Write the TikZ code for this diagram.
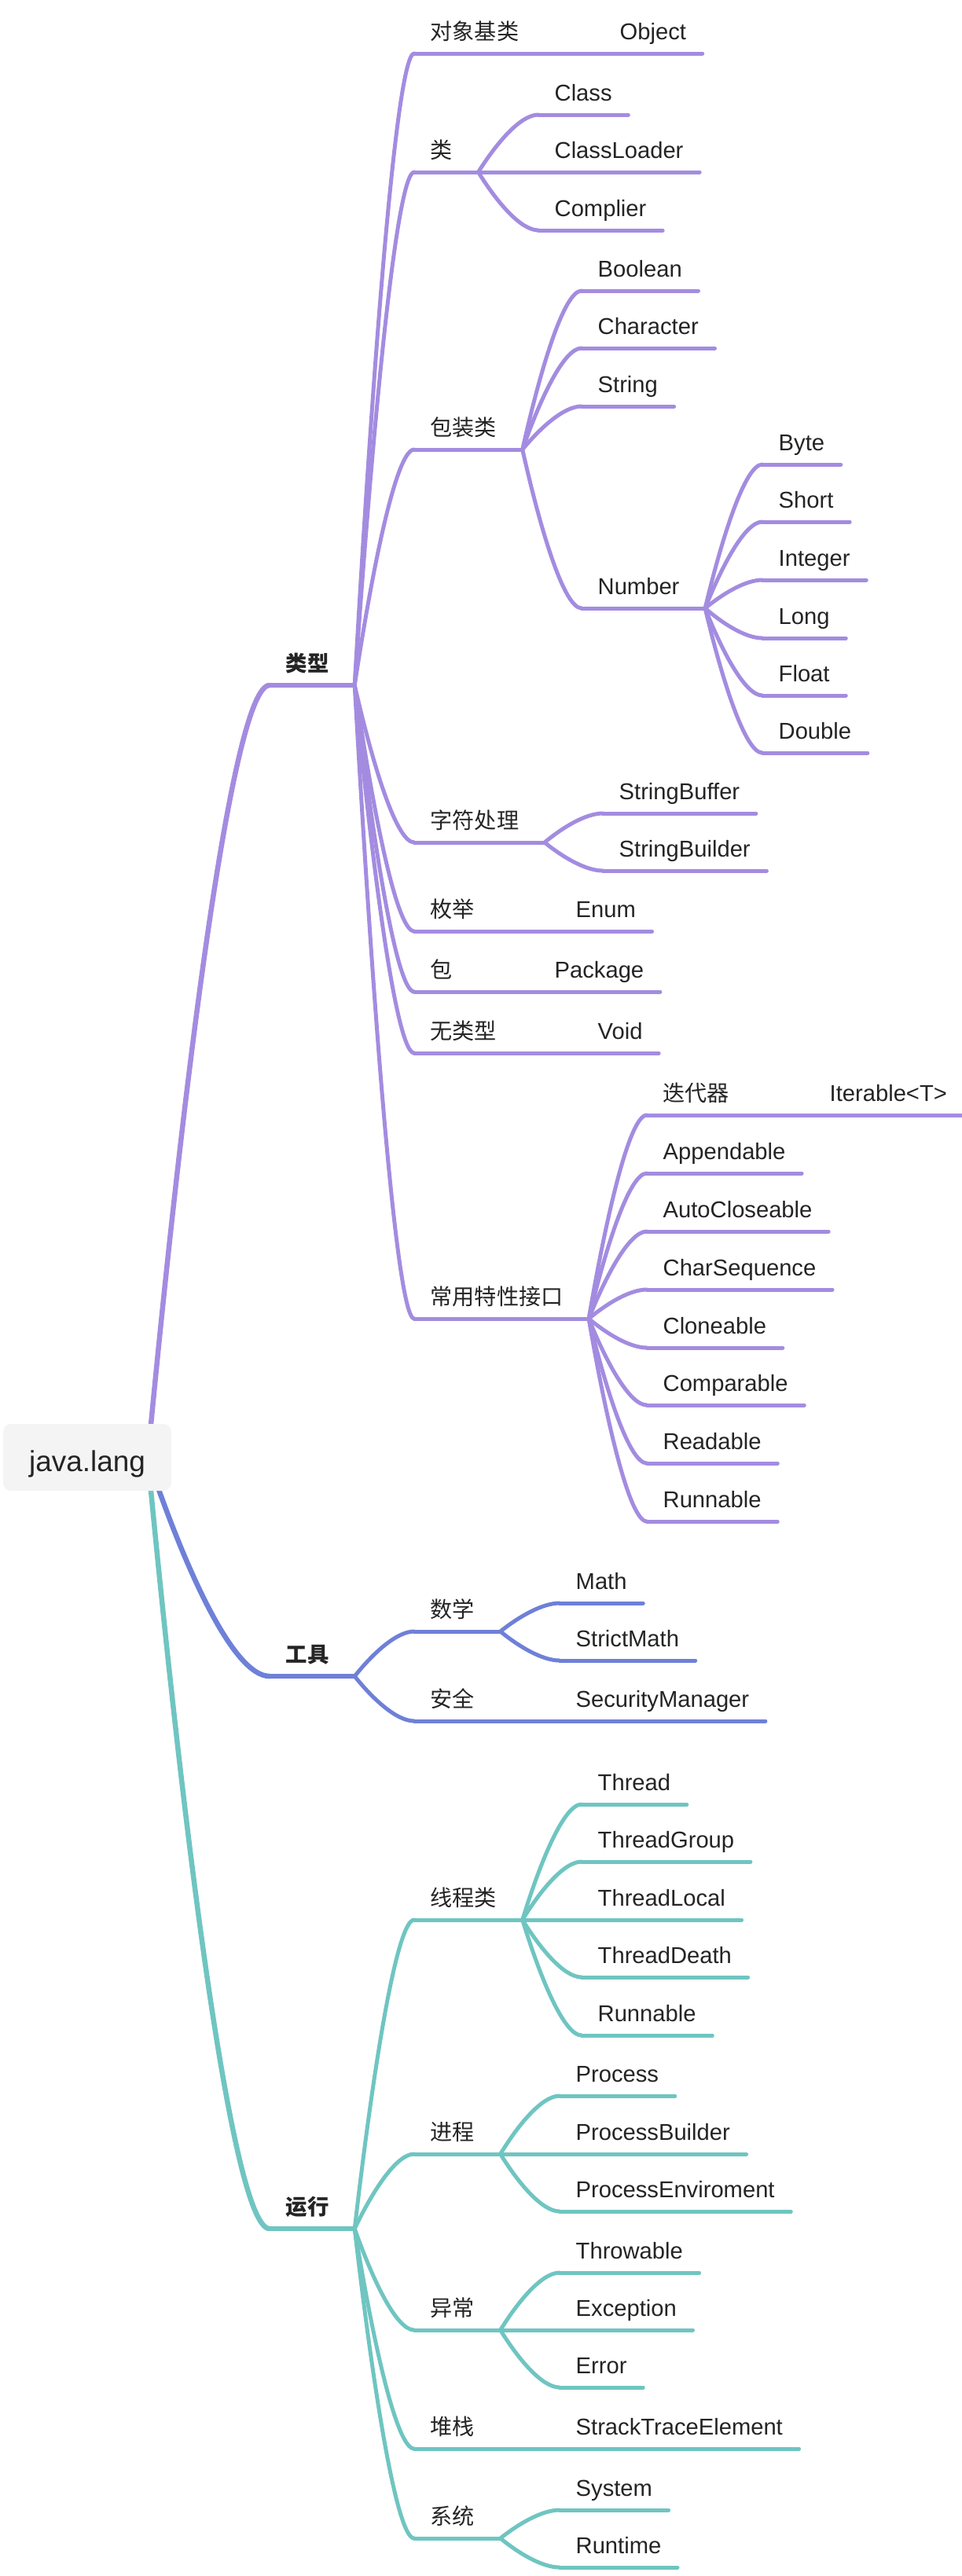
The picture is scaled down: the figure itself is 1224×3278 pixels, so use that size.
\documentclass[tikz,border=0pt]{standalone}
\usepackage{fontspec}
\setmainfont{Liberation Sans}
\newfontfamily\cjk{Noto Sans CJK SC}
\usetikzlibrary{calc,backgrounds}
\definecolor{lxpurple}{HTML}{A38CE0}
\definecolor{gjblue}{HTML}{6E80D8}
\definecolor{yxteal}{HTML}{6FC5C1}
\definecolor{rootgray}{HTML}{F4F4F5}
\definecolor{ink}{HTML}{242424}
% curved connector: start point, end point
\newcommand\mmbranch[3]{\draw[#1] let \p1=(#2), \p2=(#3) in (\p1) .. controls ({\x1+.3*(\x2-\x1)},{\y1+.5*(\y2-\y1)}) and ({\x2-.3*(\x2-\x1)},\y2) .. (\p2);}
\begin{document}
\begin{tikzpicture}[x=0.1mm,y=-0.1mm,
    lbl/.style={anchor=south west,inner xsep=2mm,inner ysep=1.7mm,text depth=0pt,text=ink,font=\fontsize{8.3pt}{10pt}\selectfont},
    zh/.style={lbl,font=\cjk\fontsize{8pt}{10pt}\selectfont},
    lvone/.style={lbl,font=\cjk\bfseries\fontsize{7.8pt}{10pt}\selectfont},
    pu/.style={draw=lxpurple,line width=.5mm,line cap=round},
    bl/.style={draw=gjblue,line width=.5mm,line cap=round},
    te/.style={draw=yxteal,line width=.5mm,line cap=round}]
\useasboundingbox (0,0) rectangle (1224,3278);
% root
\node[fill=rootgray,rounded corners=1mm,inner sep=0pt,minimum width=21.4mm,minimum height=8.5mm,text height=3.5mm,text depth=0pt,text=ink,font=\fontsize{10.5pt}{12pt}\selectfont] (root) at (111,1854.5) {java.lang};
\coordinate (rs) at (188,1855);
% level 1
\node[lvone] (lx) at (343,872) {类型};
\node[lvone] (gj) at (343,2133) {工具};
\node[lvone] (yx) at (343,2836) {运行};
% 类型
\node[zh] (dx) at (527,68) {对象基类};
\node[lbl] (obj) at (768,68) {Object};
\node[zh] (lei) at (527,219) {类};
\node[lbl] (cls) at (685,146) {Class};
\node[lbl] (cld) at (685,219) {ClassLoader};
\node[lbl] (cmp) at (685,293) {Complier};
\node[zh] (bz) at (527,572) {包装类};
\node[lbl] (bool) at (740,370) {Boolean};
\node[lbl] (chr) at (740,443) {Character};
\node[lbl] (str) at (740,517) {String};
\node[lbl] (num) at (740,774) {Number};
\node[lbl] (byte) at (970,591) {Byte};
\node[lbl] (short) at (970,664) {Short};
\node[lbl] (int) at (970,738) {Integer};
\node[lbl] (long) at (970,812) {Long};
\node[lbl] (float) at (970,885) {Float};
\node[lbl] (double) at (970,958) {Double};
\node[zh] (zf) at (527,1072) {字符处理};
\node[lbl] (sbf) at (767,1035) {StringBuffer};
\node[lbl] (sbd) at (767,1108) {StringBuilder};
\node[zh] (mj) at (527,1185) {枚举};
\node[lbl] (enum) at (712,1185) {Enum};
\node[zh] (bao) at (527,1262) {包};
\node[lbl] (pkg) at (685,1262) {Package};
\node[zh] (wlx) at (527,1340) {无类型};
\node[lbl] (void) at (740,1340) {Void};
\node[zh] (jk) at (527,1678) {常用特性接口};
\node[zh] (ddq) at (823,1419) {迭代器};
\node[lbl] (itr) at (1035,1419) {Iterable<T>};
\node[lbl] (app) at (823,1493) {Appendable};
\node[lbl] (auto) at (823,1567) {AutoCloseable};
\node[lbl] (cs) at (823,1641) {CharSequence};
\node[lbl] (cln) at (823,1715) {Cloneable};
\node[lbl] (cmpb) at (823,1788) {Comparable};
\node[lbl] (rd) at (823,1862) {Readable};
\node[lbl] (run) at (823,1936) {Runnable};
% 工具
\node[zh] (sx) at (527,2076) {数学};
\node[lbl] (math) at (712,2040) {Math};
\node[lbl] (smath) at (712,2113) {StrictMath};
\node[zh] (aq) at (527,2190) {安全};
\node[lbl] (sm) at (712,2190) {SecurityManager};
% 运行
\node[zh] (xc) at (527,2443) {线程类};
\node[lbl] (th) at (740,2296) {Thread};
\node[lbl] (tg) at (740,2369) {ThreadGroup};
\node[lbl] (tl) at (740,2443) {ThreadLocal};
\node[lbl] (td) at (740,2516) {ThreadDeath};
\node[lbl] (trun) at (740,2590) {Runnable};
\node[zh] (jc) at (527,2741) {进程};
\node[lbl] (pr) at (712,2667) {Process};
\node[lbl] (pb) at (712,2741) {ProcessBuilder};
\node[lbl] (pe) at (712,2814) {ProcessEnviroment};
\node[zh] (yc) at (527,2965) {异常};
\node[lbl] (thr) at (712,2892) {Throwable};
\node[lbl] (exc) at (712,2965) {Exception};
\node[lbl] (err) at (712,3038) {Error};
\node[zh] (dz) at (527,3116) {堆栈};
\node[lbl] (ste) at (712,3116) {StrackTraceElement};
\node[zh] (xt) at (527,3230) {系统};
\node[lbl] (sys) at (712,3194) {System};
\node[lbl] (rt) at (712,3267) {Runtime};
% root connectors
\begin{scope}[on background layer]
\mmbranch{pu,line width=.65mm}{rs}{lx.south west}
\mmbranch{bl,line width=.65mm}{rs}{gj.south west}
\mmbranch{te,line width=.65mm}{rs}{yx.south west}
\end{scope}
% underlines
\draw[pu,line width=.6mm] (lx.south west) -- ([xshift=1.2mm]lx.south east);
\draw[bl,line width=.6mm] (gj.south west) -- ([xshift=1.2mm]gj.south east);
\draw[te,line width=.6mm] (yx.south west) -- ([xshift=1.2mm]yx.south east);
\foreach \n in {dx,lei,bz,num,zf,mj,bao,wlx,jk,ddq}
  \draw[pu] (\n.south west) -- ([xshift=1.2mm]\n.south east);
\foreach \n in {obj,cls,cld,cmp,bool,chr,str,byte,short,int,long,float,double,sbf,sbd,enum,pkg,void,itr,app,auto,cs,cln,cmpb,rd,run}
  \draw[pu] (\n.south west) -- (\n.south east);
\foreach \n in {sx,aq}
  \draw[bl] (\n.south west) -- ([xshift=1.2mm]\n.south east);
\foreach \n in {math,smath,sm}
  \draw[bl] (\n.south west) -- (\n.south east);
\foreach \n in {xc,jc,yc,dz,xt}
  \draw[te] (\n.south west) -- ([xshift=1.2mm]\n.south east);
\foreach \n in {th,tg,tl,td,trun,pr,pb,pe,thr,exc,err,ste,sys,rt}
  \draw[te] (\n.south west) -- (\n.south east);
% branches
\foreach \src/\dst in {lx/dx,lx/lei,lx/bz,lx/zf,lx/mj,lx/bao,lx/wlx,lx/jk,dx/obj,lei/cls,lei/cld,lei/cmp,
    bz/bool,bz/chr,bz/str,bz/num,num/byte,num/short,num/int,num/long,num/float,num/double,
    zf/sbf,zf/sbd,mj/enum,bao/pkg,wlx/void,jk/ddq,jk/app,jk/auto,jk/cs,jk/cln,jk/cmpb,jk/rd,jk/run,ddq/itr}
  {\mmbranch{pu}{[xshift=1.2mm]\src.south east}{\dst.south west}}
\foreach \src/\dst in {gj/sx,gj/aq,sx/math,sx/smath,aq/sm}
  {\mmbranch{bl}{[xshift=1.2mm]\src.south east}{\dst.south west}}
\foreach \src/\dst in {yx/xc,yx/jc,yx/yc,yx/dz,yx/xt,xc/th,xc/tg,xc/tl,xc/td,xc/trun,
    jc/pr,jc/pb,jc/pe,yc/thr,yc/exc,yc/err,dz/ste,xt/sys,xt/rt}
  {\mmbranch{te}{[xshift=1.2mm]\src.south east}{\dst.south west}}
\end{tikzpicture}
\end{document}
